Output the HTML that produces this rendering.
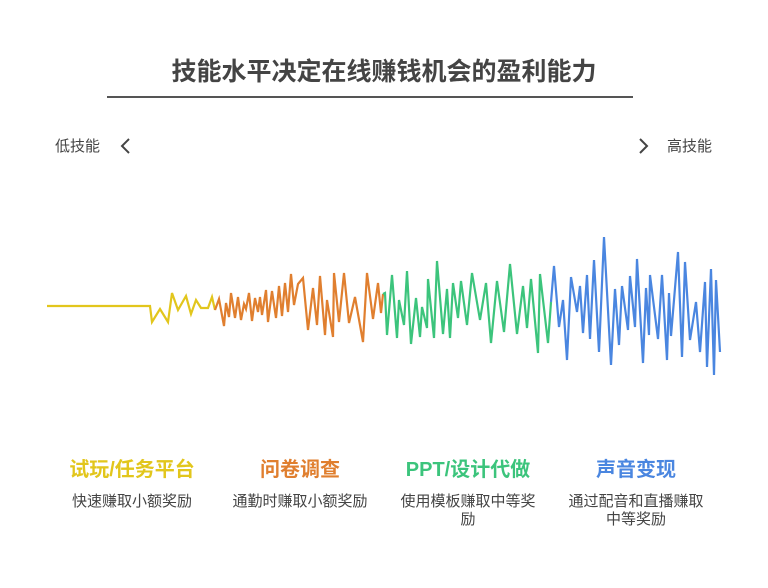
<!DOCTYPE html>
<html><head><meta charset="utf-8"><style>
body{margin:0;width:768px;height:588px;background:#fff;font-family:"Liberation Sans","Noto Sans CJK SC",sans-serif;position:relative;overflow:hidden}
.t{position:absolute;white-space:nowrap}
.title{left:0;width:768px;top:52px;text-align:center;font-size:25px;font-weight:bold;color:#444}
.h{font-size:20px;font-weight:bold;top:453px;width:168px;text-align:center}
.s{font-size:15px;color:#444;top:493px;width:140px;text-align:center;white-space:normal;line-height:18px}
</style></head><body>
<div class="t title">技能水平决定在线赚钱机会的盈利能力</div>
<div style="position:absolute;left:107px;top:96px;width:526px;height:2px;background:#555"></div>
<div class="t" style="left:55px;top:135px;font-size:15px;color:#444">低技能</div>
<div class="t" style="left:667px;top:135px;font-size:15px;color:#444">高技能</div>
<svg width="768" height="588" style="position:absolute;left:0;top:0">
<polyline fill="none" stroke="#444" stroke-width="2" points="129,139 122,146 129,153"/>
<polyline fill="none" stroke="#444" stroke-width="2" points="640,139 647,146 640,153"/>
<g fill="none" stroke-width="2.2" stroke-linejoin="miter">
<polyline stroke="#e2c61c" points="47,306 150,306 152,322 160,309 168,322 172,293 178,310 186,296 191,314 196,300 201,308 208,308 212,297 215,310"/>
<polyline stroke="#e07f2f" points="215,310 219,299 224,326 226,303 229,317 231,293 235,318 238,297 241,320 244,304 246,309 249,293 252,321 255,298 258,312 260,297 262,315 266,290 268,322 272,291 276,318 279,286 282,316 285,283 288,312 291,274 294,305 298,284 303,278 308,330 313,288 317,325 320,276 325,335 327,300 333,337 334,273 339,322 344,273 349,323 355,297 363,342 367,273 373,319 378,283 381,313 383,294"/>
<polyline stroke="#3cc47c" points="383,294 385,293 387,335 392,275 397,338 399,300 404,325 407,271 411,344 416,298 420,337 422,307 427,328 428,279 434,338 437,261 443,334 447,289 450,338 453,283 458,318 461,281 467,325 472,273 480,320 486,283 491,343 497,281 504,332 510,264 517,334 523,286 527,328 531,279 538,353 540,274 548,343 551,302"/>
<polyline stroke="#4a86e0" points="551,302 554,266 559,327 563,300 567,360 571,277 577,312 580,286 583,333 587,275 590,339 594,260 599,352 604,237 611,365 615,289 619,345 622,286 628,330 630,276 635,327 637,259 643,363 646,288 649,335 650,275 658,339 662,275 667,360 669,293 671,336 678,252 682,357 685,262 690,340 696,302 700,352 705,282 707,367 711,269 714,375 716,280 720,352"/>
</g></svg>
<div class="t h" style="left:48px;color:#e2c61c">试玩/任务平台</div>
<div class="t h" style="left:216px;color:#e07f2f">问卷调查</div>
<div class="t h" style="left:384px;color:#3cc47c">PPT/设计代做</div>
<div class="t h" style="left:552px;color:#4a86e0">声音变现</div>
<div class="t s" style="left:62px">快速赚取小额奖励</div>
<div class="t s" style="left:230px">通勤时赚取小额奖励</div>
<div class="t s" style="left:398px">使用模板赚取中等奖励</div>
<div class="t s" style="left:566px">通过配音和直播赚取中等奖励</div>
</body></html>
